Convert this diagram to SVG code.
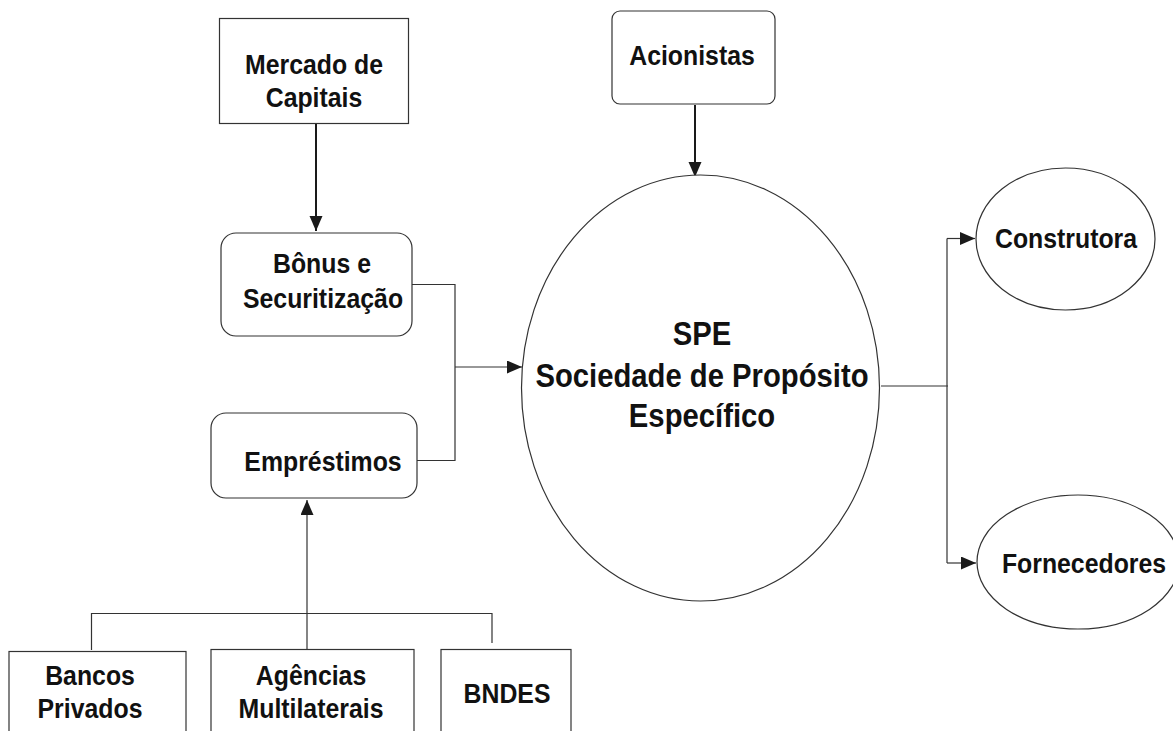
<svg xmlns="http://www.w3.org/2000/svg" width="1173" height="731" viewBox="0 0 1173 731">
<style>
.box{fill:#fff;stroke:#333;stroke-width:1.2}
.t{font-family:"Liberation Sans",Arial,sans-serif;font-weight:bold;font-size:27px;fill:#111;text-anchor:middle}
.big{font-size:32.5px}
.c{fill:none;stroke:#333;stroke-width:1.2}
.ck{fill:none;stroke:#1a1a1a;stroke-width:2}
</style>
<defs>
<marker id="ah" markerUnits="userSpaceOnUse" markerWidth="16" markerHeight="14" refX="15" refY="6.5" orient="auto">
<path d="M0,0 L15,6.5 L0,13 Z" fill="#1a1a1a"/>
</marker>
</defs>
<rect width="1173" height="731" fill="#fff"/>
<g id="connectors">
<line class="ck" x1="316" y1="124" x2="316" y2="231" marker-end="url(#ah)"/>
<line class="ck" x1="695" y1="105" x2="695" y2="177" marker-end="url(#ah)"/>
<polyline class="c" points="412,284.5 455,284.5 455,460.5 417,460.5"/>
<line class="c" x1="455" y1="367" x2="522" y2="367" marker-end="url(#ah)"/>
<polyline class="c" points="91.5,650 91.5,613.5 492,613.5 492,643"/>
<line class="c" x1="307" y1="651" x2="307" y2="500" marker-end="url(#ah)"/>
<line class="c" x1="881" y1="386" x2="948" y2="386"/>
<polyline class="c" points="947,238.5 947,563"/>
<line class="c" x1="947" y1="238.5" x2="975" y2="238.5" marker-end="url(#ah)"/>
<line class="c" x1="947" y1="563" x2="976" y2="563" marker-end="url(#ah)"/>
</g>
<g id="mercado">
<rect class="box" x="219.5" y="18.5" width="189" height="105"/>
<text class="t" transform="translate(314 74) scale(0.92 1)">Mercado de</text>
<text class="t" transform="translate(314 107) scale(0.92 1)">Capitais</text>
</g>
<g id="acionistas">
<rect class="box" x="612" y="11" width="163" height="93" rx="8"/>
<text class="t" transform="translate(692 65) scale(0.92 1)">Acionistas</text>
</g>
<g id="bonus">
<rect class="box" x="221" y="233" width="191" height="103" rx="15"/>
<text class="t" transform="translate(322 273) scale(0.92 1)">Bônus e</text>
<text class="t" transform="translate(323 308) scale(0.92 1)">Securitização</text>
</g>
<g id="emprestimos">
<rect class="box" x="211" y="413" width="206" height="85" rx="15"/>
<text class="t" transform="translate(323 471) scale(0.92 1)">Empréstimos</text>
</g>
<g id="spe">
<ellipse class="box" cx="700.5" cy="388" rx="179" ry="213"/>
<text class="t big" transform="translate(702 345) scale(0.9 1)">SPE</text>
<text class="t big" transform="translate(702 387) scale(0.9 1)">Sociedade de Propósito</text>
<text class="t big" transform="translate(702 427) scale(0.9 1)">Específico</text>
</g>
<g id="construtora">
<ellipse class="box" cx="1065.5" cy="239" rx="89.5" ry="71"/>
<text class="t" transform="translate(1066 248) scale(0.92 1)">Construtora</text>
</g>
<g id="fornecedores">
<ellipse class="box" cx="1078" cy="562" rx="101" ry="67"/>
<text class="t" transform="translate(1084 573) scale(0.92 1)">Fornecedores</text>
</g>
<g id="bancos">
<rect class="box" x="9" y="651.5" width="177" height="100"/>
<text class="t" transform="translate(90 685) scale(0.92 1)">Bancos</text>
<text class="t" transform="translate(90 718) scale(0.92 1)">Privados</text>
</g>
<g id="agencias">
<rect class="box" x="211" y="649.5" width="203" height="100"/>
<text class="t" transform="translate(311 685) scale(0.92 1)">Agências</text>
<text class="t" transform="translate(311 718) scale(0.92 1)">Multilaterais</text>
</g>
<g id="bndes">
<rect class="box" x="441" y="649.5" width="130" height="100"/>
<text class="t" transform="translate(507 703) scale(0.92 1)">BNDES</text>
</g>
</svg>
